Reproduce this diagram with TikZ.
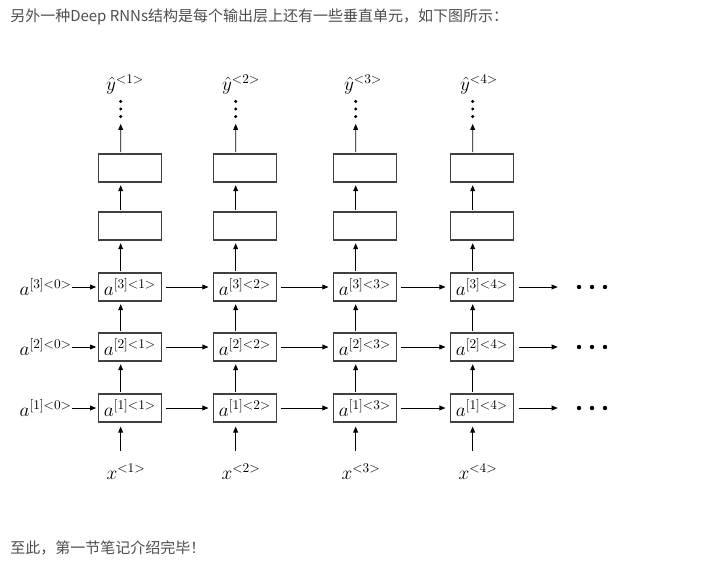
\documentclass[tikz,border=0pt]{standalone}
\usepackage{fontspec}
\newfontfamily\cjk{Noto Sans CJK SC}
\usetikzlibrary{arrows.meta}
\definecolor{txtgray}{HTML}{4D4D4D}
\definecolor{boxgray}{HTML}{404040}

\begin{document}
\begin{tikzpicture}[x=0.75pt, y=-0.75pt,
    cell/.style={draw=boxgray, line width=0.8pt, minimum width=47pt, minimum height=21pt, inner sep=0pt, font=\fontsize{14}{16}\selectfont},
    lbl/.style={inner sep=0pt, font=\fontsize{14}{16}\selectfont},
    arr/.style={-{Triangle[length=4.5pt, width=3.6pt]}, line width=0.6pt, shorten <=1pt, shorten >=2pt},
    hgap/.style={shorten <=3pt, shorten >=3.5pt},
    vdotnode/.style={minimum width=3pt, minimum height=16pt, inner sep=0pt,
        path picture={\fill (path picture bounding box.center) circle (1.25pt) ++(0,5.7pt) circle (1.25pt) ++(0,-11.4pt) circle (1.25pt);}},
    hdotnode/.style={minimum width=26pt, minimum height=4pt, inner sep=0pt,
        path picture={\fill (path picture bounding box.center) circle (1.65pt) ++(9.75pt,0) circle (1.65pt) ++(-19.5pt,0) circle (1.65pt);}} ]
    % --- Texts ---
    \node[anchor=west, text=txtgray, inner sep=0pt, font=\cjk\fontsize{11.25}{13}\selectfont] (title) at (10,17)
        {另外一种Deep RNNs结构是每个输出层上还有一些垂直单元，如下图所示：};
    \node[anchor=west, text=txtgray, inner sep=0pt, font=\cjk\fontsize{11.25}{13}\selectfont] (done) at (10,548)
        {至此，第一节笔记介绍完毕！};

    % --- Column 1 ---
    \node[cell] (a11) at (130,408) {$a^{[1]<1>}$};
    \node[cell] (a21) at (130,347) {$a^{[2]<1>}$};
    \node[cell] (a31) at (130,287) {$a^{[3]<1>}$};
    \node[cell] (u11) at (130,226) {};
    \node[cell] (u21) at (130,168) {};
    \node[lbl] (x1) at (126,472) {$x^{<1>}$};
    \node[vdotnode] (v1) at (120.7,109) {};
    \node[lbl] (y1) at (125,85) {$\hat{y}^{<1>}$};

    % --- Column 2 ---
    \node[cell] (a12) at (245,408) {$a^{[1]<2>}$};
    \node[cell] (a22) at (245,347) {$a^{[2]<2>}$};
    \node[cell] (a32) at (245,287) {$a^{[3]<2>}$};
    \node[cell] (u12) at (245,226) {};
    \node[cell] (u22) at (245,168) {};
    \node[lbl] (x2) at (241,472) {$x^{<2>}$};
    \node[vdotnode] (v2) at (235.7,109) {};
    \node[lbl] (y2) at (241,85) {$\hat{y}^{<2>}$};

    % --- Column 3 ---
    \node[cell] (a13) at (365,408) {$a^{[1]<3>}$};
    \node[cell] (a23) at (365,347) {$a^{[2]<3>}$};
    \node[cell] (a33) at (365,287) {$a^{[3]<3>}$};
    \node[cell] (u13) at (365,226) {};
    \node[cell] (u23) at (365,168) {};
    \node[lbl] (x3) at (361,472) {$x^{<3>}$};
    \node[vdotnode] (v3) at (355.7,109) {};
    \node[lbl] (y3) at (363,85) {$\hat{y}^{<3>}$};

    % --- Column 4 ---
    \node[cell] (a14) at (482,408) {$a^{[1]<4>}$};
    \node[cell] (a24) at (482,347) {$a^{[2]<4>}$};
    \node[cell] (a34) at (482,287) {$a^{[3]<4>}$};
    \node[cell] (u14) at (482,226) {};
    \node[cell] (u24) at (482,168) {};
    \node[lbl] (x4) at (478,472) {$x^{<4>}$};
    \node[vdotnode] (v4) at (472.7,109) {};
    \node[lbl] (y4) at (479,85) {$\hat{y}^{<4>}$};

    % --- Initial states and trailing dots ---
    \node[lbl, anchor=east] (i1) at (72,408) {$a^{[1]<0>}$};
    \node[lbl, anchor=east] (i2) at (72,347) {$a^{[2]<0>}$};
    \node[lbl, anchor=east] (i3) at (72,287) {$a^{[3]<0>}$};
    \node[hdotnode] (h1) at (592,408) {};
    \node[hdotnode] (h2) at (592,347) {};
    \node[hdotnode] (h3) at (592,287) {};

    % --- Vertical arrows ---
    \draw[arr, shorten <=10pt, shorten >=3pt] ([xshift=-4pt]x1.north) -- ([xshift=-7pt]a11.south);
    \draw[arr] ([xshift=-7pt]a11.north) -- ([xshift=-7pt]a21.south);
    \draw[arr] ([xshift=-7pt]a21.north) -- ([xshift=-7pt]a31.south);
    \draw[arr] ([xshift=-7pt]a31.north) -- ([xshift=-7pt]u11.south);
    \draw[arr] ([xshift=-7pt]u11.north) -- ([xshift=-7pt]u21.south);
    \draw[arr, shorten >=3pt] ([xshift=-7pt]u21.north) -- (v1.south);

    \draw[arr, shorten <=10pt, shorten >=3pt] ([xshift=-4pt]x2.north) -- ([xshift=-7pt]a12.south);
    \draw[arr] ([xshift=-7pt]a12.north) -- ([xshift=-7pt]a22.south);
    \draw[arr] ([xshift=-7pt]a22.north) -- ([xshift=-7pt]a32.south);
    \draw[arr] ([xshift=-7pt]a32.north) -- ([xshift=-7pt]u12.south);
    \draw[arr] ([xshift=-7pt]u12.north) -- ([xshift=-7pt]u22.south);
    \draw[arr, shorten >=3pt] ([xshift=-7pt]u22.north) -- (v2.south);

    \draw[arr, shorten <=10pt, shorten >=3pt] ([xshift=-4pt]x3.north) -- ([xshift=-7pt]a13.south);
    \draw[arr] ([xshift=-7pt]a13.north) -- ([xshift=-7pt]a23.south);
    \draw[arr] ([xshift=-7pt]a23.north) -- ([xshift=-7pt]a33.south);
    \draw[arr] ([xshift=-7pt]a33.north) -- ([xshift=-7pt]u13.south);
    \draw[arr] ([xshift=-7pt]u13.north) -- ([xshift=-7pt]u23.south);
    \draw[arr, shorten >=3pt] ([xshift=-7pt]u23.north) -- (v3.south);

    \draw[arr, shorten <=10pt, shorten >=3pt] ([xshift=-4pt]x4.north) -- ([xshift=-7pt]a14.south);
    \draw[arr] ([xshift=-7pt]a14.north) -- ([xshift=-7pt]a24.south);
    \draw[arr] ([xshift=-7pt]a24.north) -- ([xshift=-7pt]a34.south);
    \draw[arr] ([xshift=-7pt]a34.north) -- ([xshift=-7pt]u14.south);
    \draw[arr] ([xshift=-7pt]u14.north) -- ([xshift=-7pt]u24.south);
    \draw[arr, shorten >=3pt] ([xshift=-7pt]u24.north) -- (v4.south);

    % --- Horizontal arrows ---
    \draw[arr, shorten <=0pt, shorten >=1.5pt] (i1) -- (a11);
    \draw[arr, shorten <=0pt, shorten >=1.5pt] (i2) -- (a21);
    \draw[arr, shorten <=0pt, shorten >=1.5pt] (i3) -- (a31);

    \draw[arr, hgap] (a11) -- (a12);
    \draw[arr, hgap] (a12) -- (a13);
    \draw[arr, hgap] (a13) -- (a14);
    \draw[arr, shorten <=3.5pt, shorten >=12.5pt] (a14) -- (h1);

    \draw[arr, hgap] (a21) -- (a22);
    \draw[arr, hgap] (a22) -- (a23);
    \draw[arr, hgap] (a23) -- (a24);
    \draw[arr, shorten <=3.5pt, shorten >=12.5pt] (a24) -- (h2);

    \draw[arr, hgap] (a31) -- (a32);
    \draw[arr, hgap] (a32) -- (a33);
    \draw[arr, hgap] (a33) -- (a34);
    \draw[arr, shorten <=3.5pt, shorten >=12.5pt] (a34) -- (h3);

    % Bounding box for padding
    \useasboundingbox (0,0) rectangle (714,572);
\end{tikzpicture}
\end{document}
